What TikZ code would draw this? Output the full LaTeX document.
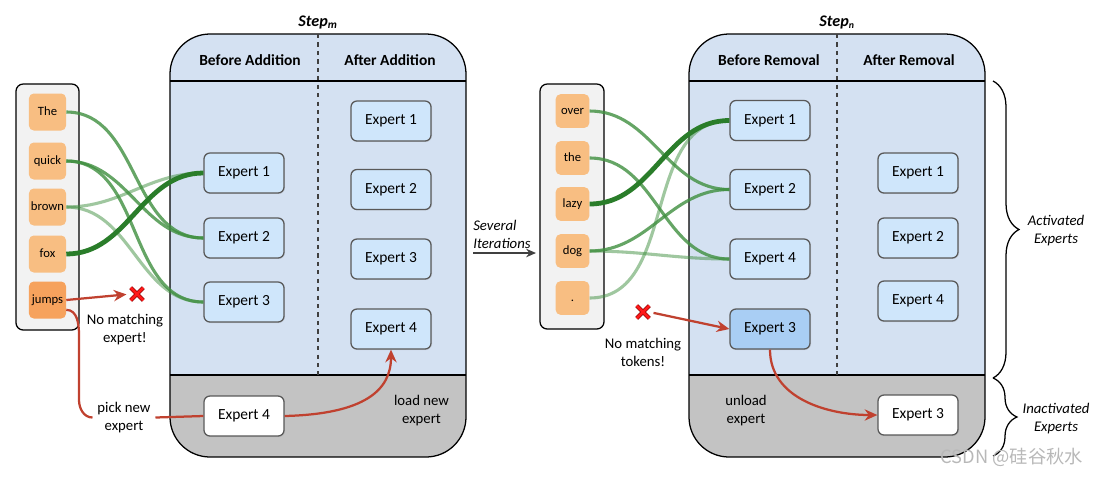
\documentclass[tikz,border=0pt]{standalone}
\usepackage{fontspec}
\setmainfont{Carlito}
\newfontfamily\cjkfont{Noto Sans CJK SC}
\usetikzlibrary{arrows.meta,shapes.misc,shadows,decorations.pathreplacing}

\definecolor{boxblue}{HTML}{D4E1F2}
\definecolor{boxgray}{HTML}{C3C3C3}
\definecolor{expblue}{HTML}{CFE6FB}
\definecolor{expdark}{HTML}{A9CEF4}
\definecolor{tokorange}{HTML}{F8BE82}
\definecolor{tokdark}{HTML}{F6A25D}
\definecolor{panelgray}{HTML}{F2F2F2}
\definecolor{gdark}{HTML}{2A7D2A}
\definecolor{gmid}{HTML}{3F8F3F}
\definecolor{redline}{HTML}{C0412F}

\tikzset{
expbox/.style={draw=black!65, line width=0.9pt, rounded corners=0.15cm, fill=expblue,
	minimum width=2cm, minimum height=1cm, font=\fontsize{11}{13}\selectfont,
	drop shadow={opacity=0.2, shadow xshift=0.7pt, shadow yshift=-0.7pt}},
tokbox/.style={fill=tokorange, rounded corners=0.12cm, minimum size=0.925cm, inner sep=0pt,
	text height=1.5ex, text depth=0.35ex, font=\fontsize{9}{11}\selectfont},
panel/.style={draw, line width=0.9pt, fill=panelgray, rounded corners=0.18cm},
headtext/.style={font=\fontsize{11}{13}\selectfont\bfseries},
notetext/.style={align=center, font=\fontsize{10.5}{12.8}\selectfont},
ittext/.style={notetext, font=\fontsize{10.5}{12.8}\selectfont\itshape},
heavyroute/.style={draw=gdark, line width=3.4pt},
midroute/.style={draw=gmid, line width=2.2pt, opacity=0.8},
lightroute/.style={draw=gmid, line width=2.2pt, opacity=0.5},
redpath/.style={draw=redline, line width=1.6pt},
redarrow/.style={redpath, -{Stealth[length=9pt,width=8pt]}},
crossmark/.style={cross out, draw=red!55!black, double=red!90!white, line width=0.5pt,
	double distance=1.8pt, minimum size=0.3cm, inner sep=0pt},
pics/stepframe/.style n args = {3}{
	code = {
	\begin{scope}
	\clip[rounded corners=1cm] (0,0) rectangle (296,423);
	\fill[boxblue] (0,0) rectangle (296,341);
	\fill[boxgray] (0,341) rectangle (296,423);
	\end{scope}
	\draw[line width=0.9pt, rounded corners=1cm] (0,0) rectangle (296,423);
	\draw[line width=0.9pt] (0,47) -- (296,47) (0,341) -- (296,341);
	\draw[dashed, line width=0.8pt, black!75] (148,0) -- (148,341);
	\node[font=\fontsize{11.5}{13}\selectfont\bfseries\itshape] (title) at (148,-12) {#1};
	\node[headtext] (left) at (80,26) {#2};
	\node[headtext] (right) at (220,26) {#3};
	}
	}
}

\begin{document}
\begin{tikzpicture}[x=0.025cm, y=-0.025cm]
\useasboundingbox (0,0) rectangle (1103,476);

% the two steps
\pic (sm) [shift={(170,34)}] {stepframe={Step\textsubscript{m}}{Before Addition}{After Addition}};
\pic (sn) [shift={(689,34)}] {stepframe={Step\textsubscript{\scriptsize n}}{Before Removal}{After Removal}};

% tokens of step m
\draw[panel] (16,84) rectangle (79,330);
\foreach \n/\y/\t in {the/112/The,quick/161/quick,brown/207/brown,fox/254/fox}
{
	\node[tokbox] (\n) at (47.5,\y) {\t};
}
\node[tokbox, fill=tokdark] (jumps) at (47.5,300) {jumps};

% tokens of step n
\draw[panel] (540,84) rectangle (604,329);
\foreach \n/\y/\t in {over/111/over,theb/158/the,lazy/204/lazy,dog/251/dog,dot/298/.}
{
	\node[tokbox, minimum size=0.84cm] (\n) at (572.5,\y) {\t};
}

% experts of step m
\foreach \n/\y in {1/173,2/238,3/302}
{
	\node[expbox] (mb\n) at (244,\y) {Expert \n};
}
\foreach \n/\y in {1/121,2/189.5,3/259,4/329}
{
	\node[expbox] (ma\n) at (391,\y) {Expert \n};
}
\node[expbox, fill=white] (mnew) at (244,416) {Expert 4};

% experts of step n
\foreach \n/\y in {1/120.5,2/189.5,4/259}
{
	\node[expbox] (nb\n) at (770,\y) {Expert \n};
}
\node[expbox, fill=expdark] (nb3) at (770,329) {Expert 3};
\foreach \n/\y in {1/173,2/238,4/301}
{
	\node[expbox] (na\n) at (918,\y) {Expert \n};
}
\node[expbox, fill=white] (nold) at (918,415) {Expert 3};

% routes of step m
\draw[midroute] (the.east) to[out=0,in=180] (mb2.west);
\draw[midroute] (quick.east) to[out=0,in=180] (mb2.west);
\draw[midroute] (quick.east) to[out=0,in=180] (mb3.west);
\draw[lightroute] (brown.east) to[out=0,in=180] (mb1.west);
\draw[lightroute] (brown.east) to[out=0,in=180] (mb3.west);
\draw[heavyroute] (fox.east) to[out=0,in=180] (mb1.west);

% routes of step n
\draw[midroute] (over.east) to[out=0,in=180] (nb2.west);
\draw[midroute] (theb.east) to[out=0,in=180] (nb4.west);
\draw[midroute] (dog.east) to[out=0,in=180] (nb2.west);
\draw[lightroute] (dog.east) to[out=0,in=180] (nb4.west);
\draw[lightroute] (dot.east) to[out=0,in=180] (nb1.west);
\draw[heavyroute] (lazy.east) to[out=0,in=180] (nb1.west);

% addition
\node[crossmark] (xa) at (137,294) {};
\node[notetext] (nomatcha) at (125,330) {No matching\\expert!};
\node[notetext] (picknew) at (124,417.5) {pick new\\expert};
\node[notetext] (loadnew) at (421.5,410.5) {load new\\expert};
\draw[redarrow, shorten >=3pt] (jumps.east) -- (xa.west);
\draw[redpath] ([yshift=-7pt]jumps.east) to[out=0,in=90] (79,335) -- (79,400) to[out=-90,in=180] (picknew.west);
\draw[redpath] (picknew.east) -- (mnew.west);
\draw[redarrow] (mnew.east) .. controls (365,414) and (391,390) .. (ma4.south);

% removal
\node[crossmark] (xb) at (643,312) {};
\node[notetext] (nomatchb) at (643,352) {No matching\\tokens!};
\node[notetext] (unload) at (746,410.5) {unload\\expert};
\draw[redarrow, shorten <=3pt] (xb.east) -- (nb3.west);
\draw[redarrow] (nb3.south) to[out=-90,in=180] (nold.west);

% iterations
\node[ittext, align=left, anchor=west, inner sep=0pt] (iters) at (473,234) {Several\\Iterations};
\coordinate (itstart) at (473,253);
\coordinate (itend) at (536,253);
\draw[black!75, line width=1.2pt, -{Stealth[length=7pt,width=6pt]}] (itstart) -- (itend);

% braces
\draw[decorate, decoration={brace, amplitude=0.65cm}, line width=0.9pt] (993,81) -- (993,378);
\draw[decorate, decoration={brace, amplitude=0.6cm}, line width=0.9pt] (993,378) -- (993,456);
\node[ittext] (active) at (1056,231) {Activated\\Experts};
\node[ittext] (inactive) at (1056,418.5) {Inactivated\\Experts};

\node[text=black!28, anchor=east, font=\cjkfont\fontsize{13}{15}\selectfont] (mark) at (1088,457) {CSDN @硅谷秋水};
\end{tikzpicture}
\end{document}
